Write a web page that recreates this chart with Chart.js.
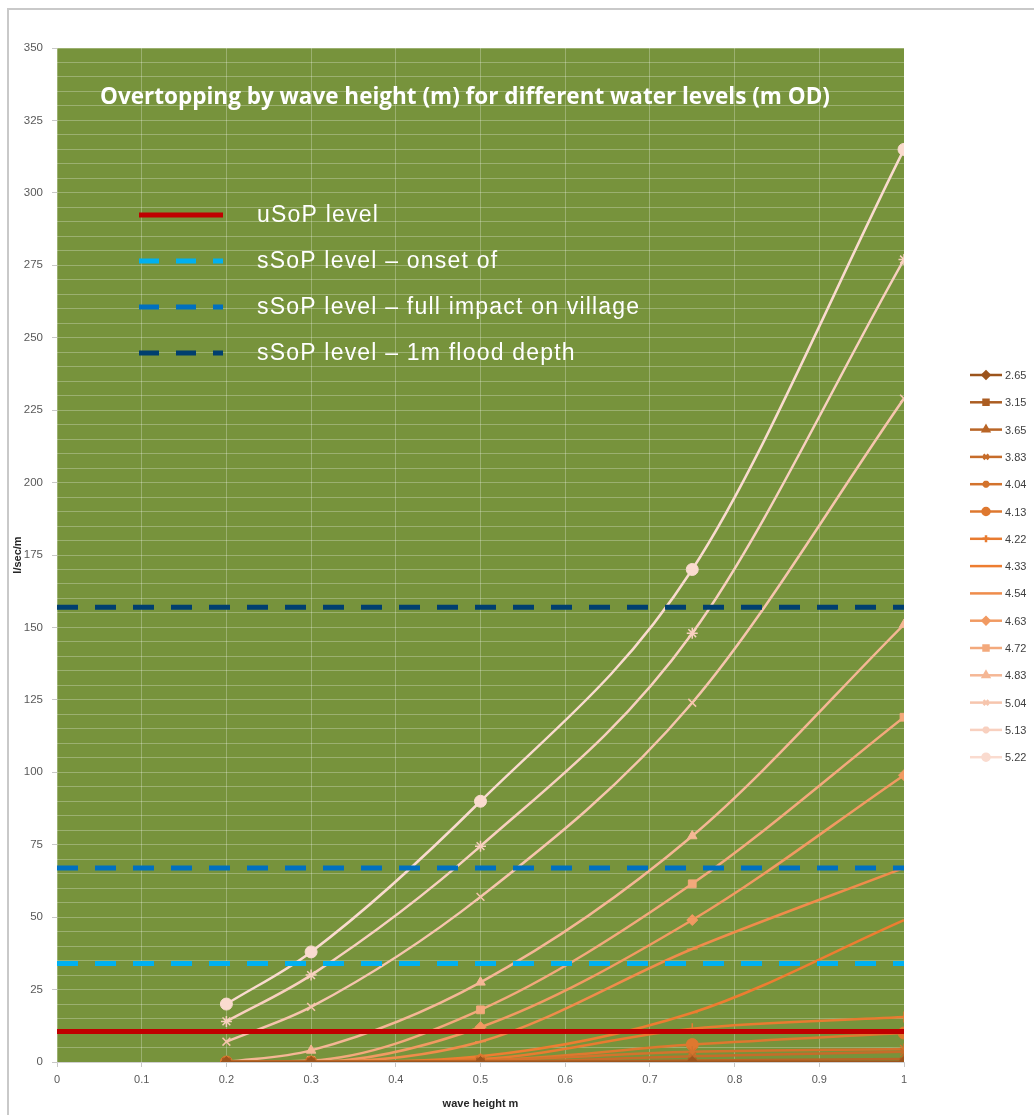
<!DOCTYPE html>
<html>
<head>
<meta charset="utf-8">
<script src="https://cdn.jsdelivr.net/npm/chart.js@4.4.0/dist/chart.umd.min.js"></script>
<style>
  html, body { margin: 0; padding: 0; background: #fff; }
  #wrap { position: relative; width: 1034px; height: 1115px; overflow: hidden; }
  #frame { position: absolute; left: 7px; top: 8px; width: 1200px; height: 1300px; border: 2px solid #c9c9c9; box-sizing: border-box; }
  #c { position: absolute; left: 0; top: 0; }
</style>
</head>
<body>
<div id="wrap">
  <div id="frame"></div>
  <canvas id="c" width="1034" height="1115"></canvas>
</div>
<script>
// wave heights (m) sampled for every water level
const waveHeights = [0.2, 0.3, 0.5, 0.75, 1.0];

// overtopping l/sec/m per water level (m OD)
const q265 = [0, 0, 0, 0, 0];
const q315 = [0, 0, 0, 0, 0];
const q365 = [0, 0, 0, 0.5, 1];
const q383 = [0, 0, 0, 2, 3.5];
const q404 = [0, 0, 0.5, 3.5, 4.5];
const q413 = [0, 0, 0.5, 6, 10];
const q422 = [0, 0, 1, 11.5, 15.5];
const q433 = [0, 0, 2, 17, 49];
const q454 = [0, 0, 7, 39, 67];
const q463 = [0, 0, 12, 49, 99];
const q472 = [0, 0.5, 18, 61.5, 119];
const q483 = [0, 4, 27.5, 78, 151];
const q504 = [7, 19, 57, 124, 229];
const q513 = [14, 30, 74.5, 148, 277];
const q522 = [20, 38, 90, 170, 315];

const levels = ['2.65', '3.15', '3.65', '3.83', '4.04', '4.13', '4.22', '4.33',
                '4.54', '4.63', '4.72', '4.83', '5.04', '5.13', '5.22'];
const seriesValues = [q265, q315, q365, q383, q404, q413, q422, q433,
                      q454, q463, q472, q483, q504, q513, q522];

// standard of protection thresholds (l/sec/m)
const refLabels = ['uSoP level', 'sSoP level \u2013 onset of',
                   'sSoP level \u2013 full impact on village', 'sSoP level \u2013 1m flood depth'];
const refValues = [10.5, 34, 67, 157];

const yTicks = { min: 0, max: 350, step: 5, labelEvery: 25 };

// styling
const seriesColors = ['#9c541c', '#ab5d22', '#b96526', '#c66c2a', '#d3732d', '#de782f',
                      '#e87b30', '#ed7d31', '#ef8c4b', '#f19a62', '#f3a97c', '#f5b795',
                      '#f6c5ad', '#f8d0bf', '#fadbcf'];
const markers = ['rectRot', 'rect', 'triangle', 'crossRot', 'star', 'circle', 'cross', 'dash',
                 'line', 'rectRot', 'rect', 'triangle', 'crossRot', 'star', 'circle'];
const refColors = ['#c00000', '#00b0f0', '#0070c0', '#003f6f'];
const refDashed = [false, true, true, true];
const PLOT_BG = '#77933c';
const GRID = 'rgba(255,255,255,0.27)';

const datasets = [];
refValues.forEach((v, i) => {
  datasets.push({
    label: refLabels[i],
    data: [{ x: 0, y: v }, { x: 1, y: v }],
    borderColor: refColors[i],
    borderWidth: 5,
    borderDash: refDashed[i] ? [21, 17] : [],
    pointRadius: 0,
    order: 0,
  });
});
seriesValues.forEach((vals, i) => {
  datasets.push({
    label: levels[i],
    data: vals.map((v, k) => ({ x: waveHeights[k], y: v })),
    borderColor: seriesColors[i],
    backgroundColor: seriesColors[i],
    borderWidth: 2.5,
    pointStyle: markers[i],
    pointRadius: markers[i] === 'circle' ? 6 : 5.5,
    pointBorderWidth: markers[i] === 'crossRot' || markers[i] === 'star' || markers[i] === 'cross' ? 1.5 : 1,
    cubicInterpolationMode: 'monotone',
    order: 1,
  });
});

const plotBg = {
  id: 'plotBg',
  beforeDraw(chart) {
    const { ctx, chartArea: a } = chart;
    ctx.save();
    ctx.fillStyle = PLOT_BG;
    ctx.fillRect(a.left, a.top, a.right - a.left, a.bottom - a.top);
    ctx.restore();
  },
};

function marker(ctx, style, radius, x, y) {
  if (Chart.helpers && Chart.helpers.drawPoint) {
    Chart.helpers.drawPoint(ctx, { pointStyle: style, radius: radius, rotation: 0, borderWidth: 1.2 }, x, y);
  }
}

const annotations = {
  id: 'annotations',
  afterDraw(chart) {
    const ctx = chart.ctx;
    ctx.save();
    // title inside the plot
    ctx.fillStyle = '#ffffff';
    ctx.font = 'bold 22.5px "Open Sans", sans-serif';
    ctx.textAlign = 'center';
    ctx.textBaseline = 'middle';
    ctx.fillText('Overtopping by wave height (m) for different water levels (m OD)', 465, 98);

    // inner legend for the threshold lines
    ctx.textAlign = 'left';
    ctx.font = '23px "Liberation Sans", sans-serif';
    if ('letterSpacing' in ctx) ctx.letterSpacing = '1.2px';
    refLabels.forEach((t, i) => {
      const y = 215 + i * 46;
      ctx.strokeStyle = refColors[i];
      ctx.lineWidth = 5;
      ctx.setLineDash(refDashed[i] ? [20, 17] : []);
      ctx.beginPath();
      ctx.moveTo(139, y);
      ctx.lineTo(223, y);
      ctx.stroke();
      ctx.setLineDash([]);
      ctx.fillStyle = '#ffffff';
      ctx.fillText(t, 257, y + 1);
    });
    if ('letterSpacing' in ctx) ctx.letterSpacing = '0px';

    // side legend for the water levels
    ctx.font = '11px "Liberation Sans", sans-serif';
    levels.forEach((lv, i) => {
      const y = 375 + i * 27.3;
      ctx.strokeStyle = seriesColors[i];
      ctx.fillStyle = seriesColors[i];
      ctx.lineWidth = 2.5;
      ctx.beginPath();
      ctx.moveTo(970, y);
      ctx.lineTo(1002, y);
      ctx.stroke();
      if (markers[i] !== 'dash' && markers[i] !== 'line') marker(ctx, markers[i], 3.5, 986, y);
      ctx.fillStyle = '#404040';
      ctx.fillText(lv, 1005, y + 1);
    });
    ctx.restore();
  },
};

Chart.defaults.font.family = '"Liberation Sans", sans-serif';
Chart.defaults.color = '#595959';

new Chart(document.getElementById('c'), {
  type: 'line',
  data: { datasets },
  plugins: [plotBg, annotations],
  options: {
    responsive: false,
    animation: false,
    layout: { padding: { left: 8, top: 48, right: 130, bottom: 0 } },
    plugins: { legend: { display: false }, tooltip: { enabled: false } },
    scales: {
      x: {
        type: 'linear',
        min: 0,
        max: 1,
        ticks: {
          stepSize: 0.1,
          padding: 6,
          font: { size: 11 },
          color: '#595959',
          callback: v => String(Number(v.toFixed(1))),
        },
        grid: { color: GRID, tickColor: '#c8c8c8', tickLength: 5 },
        border: { color: '#d0d0d0' },
        title: { display: true, text: 'wave height m', font: { size: 11, weight: 'bold' }, color: '#262626', padding: { top: 0, bottom: 4 } },
        afterFit(scale) { scale.height = 53; },
      },
      y: {
        type: 'linear',
        min: yTicks.min,
        max: yTicks.max,
        ticks: {
          stepSize: yTicks.step,
          padding: 9,
          autoSkip: false,
          font: { size: 11.5 },
          color: '#595959',
          callback: v => (v % yTicks.labelEvery === 0 ? String(v) : ''),
        },
        grid: {
          color: GRID,
          tickLength: 5,
          tickColor: c => (c.tick && c.tick.value % yTicks.labelEvery === 0 ? '#c8c8c8' : 'rgba(0,0,0,0)'),
        },
        border: { display: false },
        title: { display: true, text: 'l/sec/m', font: { size: 11, weight: 'bold' }, color: '#262626', padding: { top: 3, bottom: 0 } },
        afterFit(scale) { scale.width = 49; },
      },
    },
  },
});
</script>
</body>
</html>
